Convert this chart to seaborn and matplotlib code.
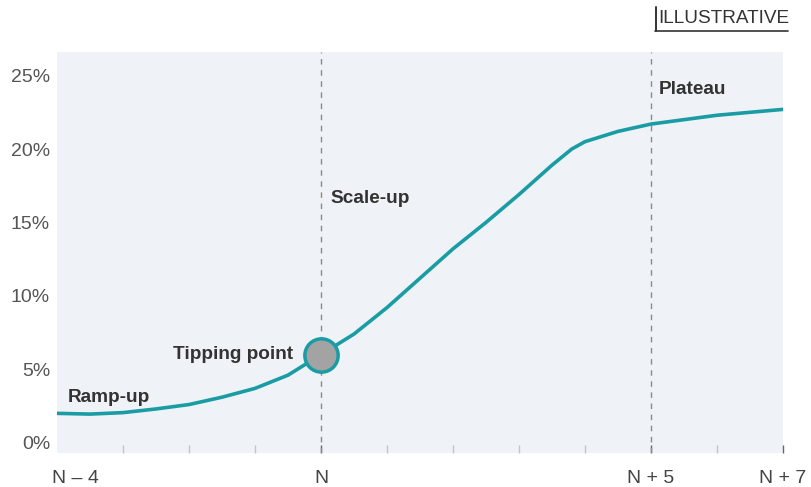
import seaborn as sns
import matplotlib.pyplot as plt
import matplotlib.transforms as mtrans
import pandas as pd

# 곡선 데이터
years = [-4, -3.5, -3, -2.5, -2, -1.5, -1, -0.5, 0, 0.5, 1, 1.5, 2, 2.5, 3, 3.5, 3.8, 4, 4.5, 5, 5.5, 6, 6.5, 7]
share = [2.0, 1.95, 2.05, 2.3, 2.6, 3.1, 3.7, 4.6, 6.0, 7.4, 9.2, 11.2, 13.2, 15.0, 16.9, 18.9, 20.0, 20.5, 21.2, 21.7, 22.0, 22.3, 22.5, 22.7]
tick_pos = [-4, 0, 5, 7]
tick_labels = ['N – 4', 'N', 'N + 5', 'N + 7']
minor_pos = [-3, -2, -1, 1, 2, 3, 4, 6]
y_ticks = [0, 5, 10, 15, 20, 25]
tipping = (0, 6.0)

df = pd.DataFrame({'year': years, 'share': share})

sns.set_style('white')
plt.rcParams['font.family'] = ['Liberation Sans', 'DejaVu Sans']

teal = '#1a9ca4'
fig = plt.figure(figsize=(8.12, 4.87), dpi=100)
ax = fig.add_axes([0.0702, 0.0698, 0.894, 0.8232])
ax.set_facecolor('#eff3f7')

sns.lineplot(data=df, x='year', y='share', color=teal, linewidth=2.6, ax=ax)

for xv in [0, 5]:
    ax.axvline(xv, color='#8a8a8a', linestyle=(0, (4, 4)), linewidth=1, zorder=1)

ax.plot(*tipping, 'o', markersize=24, markerfacecolor='#a3a3a3',
        markeredgecolor=teal, markeredgewidth=2.5, zorder=5)

ax.set_xlim(-4, 7)
ax.set_ylim(-0.7, 26.6)
ax.set_xticks(tick_pos)
ax.set_xticklabels(tick_labels)
ax.set_xticks(minor_pos, minor=True)
ax.set_yticks(y_ticks)
ax.set_yticklabels([f'{v}%' for v in y_ticks])
ax.set_xlabel('')
ax.set_ylabel('')
for s in ax.spines.values():
    s.set_visible(False)

# seaborn white 스타일은 x축 눈금을 숨기므로 다시 켠다
ax.tick_params(axis='x', which='both', bottom=True)
ax.tick_params(axis='x', which='major', direction='in', length=6, width=1, color='#666666',
               pad=12.5, labelsize=14, labelcolor='#444444')
ax.tick_params(axis='x', which='minor', direction='in', length=6, width=1, color='#c4c4c4')
ax.tick_params(axis='y', left=False, length=0, pad=5, labelsize=14, labelcolor='#555555')
ax.xaxis.get_major_ticks()[0].tick1line.set_visible(False)
first = ax.get_xticklabels()[0]
first.set_horizontalalignment('left')
first.set_transform(first.get_transform() + mtrans.ScaledTranslation(-5 / 100, 0, fig.dpi_scale_trans))

bold = dict(fontsize=13.7, fontweight='bold', color='#333333', va='center')
ax.text(-3.83, 3.1, 'Ramp-up', ha='left', **bold)
ax.text(-0.42, 6.0, 'Tipping point', ha='right', **bold)
ax.text(0.14, 16.6, 'Scale-up', ha='left', **bold)
ax.text(5.12, 24.05, 'Plateau', ha='left', **bold)

# ILLUSTRATIVE 표시
fig.text(0.8105, 0.962, 'ILLUSTRATIVE', ha='left', va='center', fontsize=13.7, color='#333333')
fig.add_artist(plt.Line2D([0.8065, 0.971], [0.936, 0.936], color='#333333', linewidth=1.2))
fig.add_artist(plt.Line2D([0.8075, 0.8075], [0.936, 0.985], color='#333333', linewidth=1.4))

plt.savefig('out.png', dpi=100)
